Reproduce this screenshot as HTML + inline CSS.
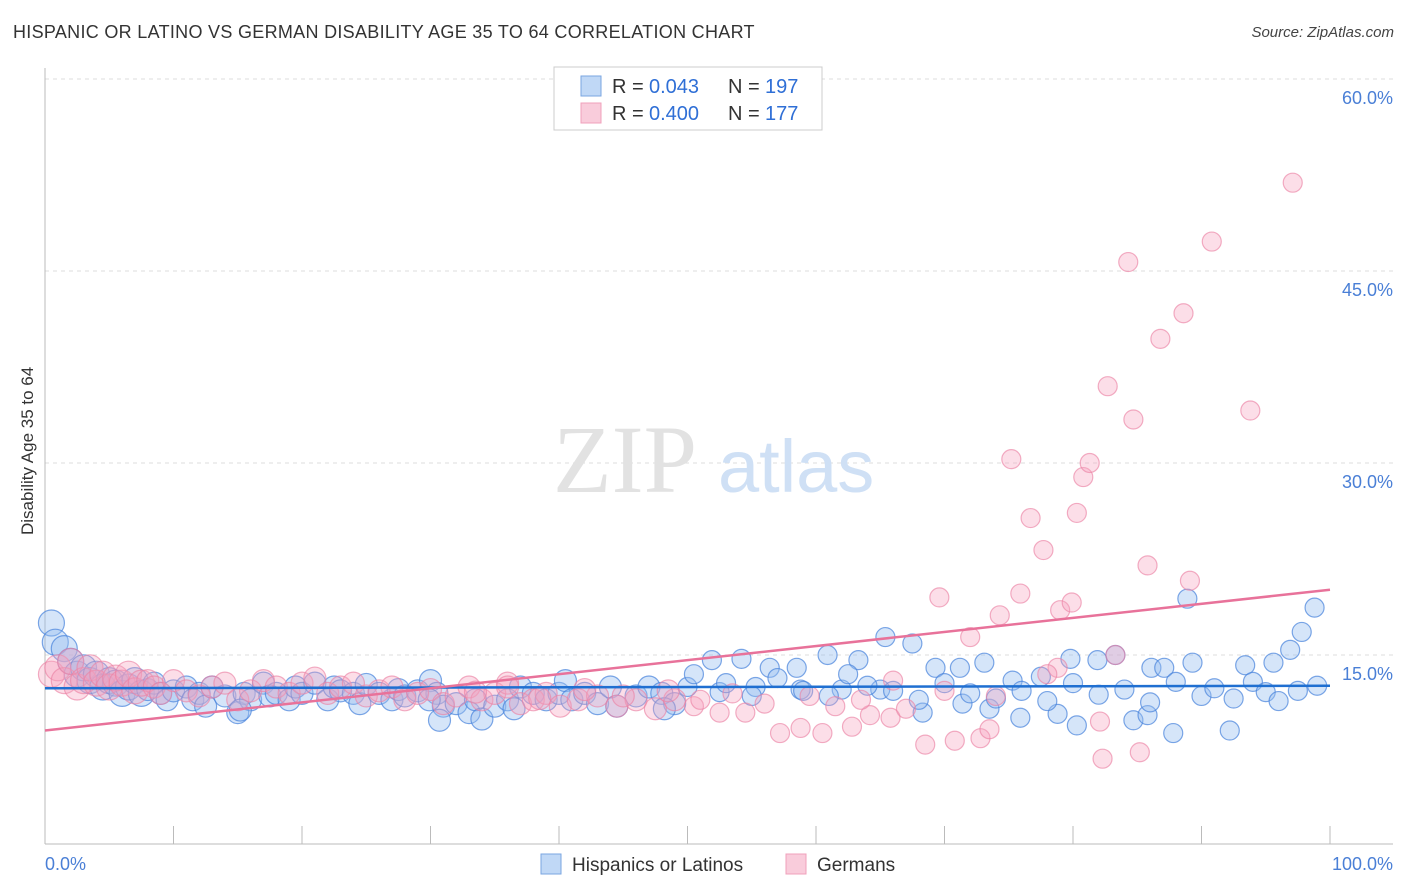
<!DOCTYPE html>
<html><head><meta charset="utf-8">
<style>
body{margin:0;background:#fff;font-family:"Liberation Sans",sans-serif;}
#wrap{position:relative;width:1406px;height:892px;overflow:hidden;}
.t{position:absolute;white-space:nowrap;}
</style></head>
<body>
<div id="wrap">
<div class="t" style="left:13px;top:22px;font-size:18px;color:#333;letter-spacing:0.3px;">HISPANIC OR LATINO VS GERMAN DISABILITY AGE 35 TO 64 CORRELATION CHART</div>
<div class="t" style="right:12px;top:24px;font-size:15px;color:#444;font-style:italic;">Source: ZipAtlas.com</div>
<div class="t" style="left:-52px;top:445px;font-size:17px;color:#333;transform:rotate(-90deg);width:160px;text-align:center;">Disability Age 35 to 64</div>
<svg id="svg" width="1406" height="892" style="position:absolute;left:0;top:0"></svg>
</div>
<script>
const blueX=[0.5,0.8,1.5,2,2.5,3,3.5,4,4.5,5,5.5,6,6.5,7,7.5,8,8.5,9,9.5,10,11,11.5,12,12.5,13,14,15,15.5,16,17,17.5,18,19,19.5,20,21,22,22.5,23,24,24.5,25,26,27,27.5,28,29,30,30.5,31,32,33,33.5,34,35,36,36.5,37,38,39,40,40.5,41,42,43,44,44.5,46,47,48,49,50,50.5,51.9,54.2,56.4,58.5,60.9,63.3,65.4,67.5,69.3,71.2,73.1,75.3,77.5,79.8,81.9,83.3,86.1,87.1,88.9,89.3,92.2,93.4,95.6,96.9,97.8,98.8,80.3,84.7,87.8,85.8,75.9,78.8,71.4,68.3,73.5,65.0,62.0,58.8,55.3,52.5,48.2,30.7,29.9,15.2,53,55,57,59,61,62.5,64,66,68,70,72,74,76,78,80,82,84,86,88,90,91,92.5,94,95,96,97.5,99];
const blueY=[17.5,16,15.5,14.5,13.5,14,13,13.5,12.5,13,12.8,12,12.5,13,12,12.3,12.8,12,11.5,12.2,12.5,11.5,12,11,12.5,11.8,10.5,12,11.5,12.8,11.8,12,11.5,12.5,12,12.8,11.5,12.5,12.2,12,11.2,12.7,12,11.5,12.3,11.8,12.2,13,12,11,11.2,10.5,11.5,10,11,11.5,10.8,12.5,12,11.5,12,13,11.5,12,11.2,12.5,11,11.8,12.5,12,11.2,12.5,13.5,14.6,14.7,14,14,15,14.6,16.4,15.9,14,14,14.4,13,13.3,14.7,14.6,15,14,14,19.4,14.4,9.1,14.2,14.4,15.4,16.8,18.7,9.5,9.9,8.9,10.3,10.1,10.4,11.2,10.5,10.8,12.3,12.3,12.3,12.5,12.1,10.8,9.9,11.5,10.7,12.8,11.8,13.2,12.2,11.8,13.5,12.6,12.2,11.5,12.8,12,11.6,12.2,11.4,12.8,11.9,12.3,11.3,12.9,11.8,12.4,11.6,12.9,12.1,11.4,12.2,12.6];
const pinkX=[0.5,1,1.5,2,2.5,3,3.5,4,4.5,5,5.5,6,6.5,7,7.5,8,8.5,9,10,11,12,13,14,15,16,17,18,19,20,21,22,23,24,25,26,27,28,29,30,31,32,33,34,35,36,37,38,39,40.1,41.5,43,44.5,46,47.5,49,50.5,52.5,54.5,57.2,58.8,60.5,62.8,64.2,65.8,68.5,69.6,70.8,72,72.8,74.3,75.2,75.9,76.7,77.7,78.8,79,79.9,80.3,80.8,81.3,82.1,82.3,82.7,83.3,84.3,84.7,85.2,85.8,86.8,88.6,89.1,90.8,93.8,97.1,73.5,67,63.5,61.5,59.5,56,53.5,51,48.5,45,42,38.5,36,33.5,66,70,74,78];
const pinkY=[13.5,14,13,14.5,12.5,13,14,12.8,13.5,12.5,13.2,12.8,13.5,12.2,12.8,13,12.5,12,13,12.2,11.8,12.5,12.8,11.5,12.2,13,12.5,12,12.8,13.2,12,12.5,12.8,11.8,12.2,12.5,11.5,12,12.3,11.2,11.8,12.5,11.5,12,12.8,11.2,11.5,12,11,11.5,11.8,11,11.5,10.8,11.5,11,10.5,10.5,8.9,9.3,8.9,9.4,10.3,10.1,8,19.5,8.3,16.4,8.5,18.1,30.3,19.8,25.7,23.2,14,18.5,19.1,26.1,28.9,30,9.8,6.9,36,15,45.7,33.4,7.4,22,39.7,41.7,20.8,47.3,34.1,51.9,9.2,10.8,11.5,11,11.8,11.2,12,11.5,12.2,11.8,12.3,11.6,12.5,12.1,13,12.2,11.8,13.5];
const blueLine=[12.4,12.6];
const pinkLine=[9.1,20.1];
const yTicks=[15,30,45,60];
const xTicks=[0,10,20,30,40,50,60,70,80,90,100];

const svg=document.getElementById('svg');
const NS='http://www.w3.org/2000/svg';
const X=v=>45+v*12.85;
const Y=v=>847-v*12.8;
function mk(t,a){const e=document.createElementNS(NS,t);for(const k in a)e.setAttribute(k,a[k]);svg.appendChild(e);return e;}
yTicks.forEach(v=>{
 const g=mk('line',{x1:45,x2:1393,y1:Y(v),y2:Y(v),stroke:'#ddd','stroke-dasharray':'4,4'});
 
 
 const t=mk('text',{x:1393,y:Y(v)+25,'text-anchor':'end','font-size':18,fill:'#4a7fd6','font-family':'Liberation Sans'});
 t.textContent=v.toFixed(1)+'%';
 
 
});
mk('line',{x1:45,x2:45,y1:68,y2:844,stroke:'#bbb'});
const ax=mk('line',{x1:45,x2:1393,y1:844,y2:844,stroke:'#bbb'});


xTicks.forEach(v=>{const l=mk('line',{x1:X(v),x2:X(v),y1:826,y2:844,stroke:'#bbb'});
 
 });
[[0,'start','0.0%'],[100,'end','100.0%']].forEach(([v,a,s],i)=>{const t=mk('text',{x:i?1393:45,y:870,'text-anchor':a,'font-size':18,fill:'#4a7fd6','font-family':'Liberation Sans'});t.textContent=s;
 
 });
const w1=mk('text',{x:553,y:492,'font-size':96,fill:'#e2e2e2','font-family':'Liberation Serif'});w1.textContent='ZIP';


const w2=mk('text',{x:718,y:492,'font-size':74,fill:'#cfe0f5','font-family':'Liberation Sans'});w2.textContent='atlas';


function pts(xs,ys,fill,stroke,name){xs.forEach((x,i)=>{const r=(x<8?13:(x<50?11:9.5));
 const c=mk('circle',{cx:X(x),cy:Y(ys[i]),r:r,fill:fill,stroke:stroke,'stroke-width':1.2});
 
 });}
pts(blueX,blueY,'rgba(150,190,240,0.4)','rgba(70,130,220,0.7)','hispanic-point');
pts(pinkX,pinkY,'rgba(245,160,190,0.35)','rgba(235,130,165,0.65)','german-point');
const bl=mk('line',{x1:X(0),x2:X(100),y1:Y(blueLine[0]),y2:Y(blueLine[1]),stroke:'#1f6fd1','stroke-width':2.5});


const pl=mk('line',{x1:X(0),x2:X(100),y1:Y(pinkLine[0]),y2:Y(pinkLine[1]),stroke:'#e8729a','stroke-width':2.5});


const lb=mk('rect',{x:554,y:67,width:268,height:63,fill:'#fff',stroke:'#ccc'});


[[0,'rgba(150,190,240,0.6)','#7aa6e0','0.043','197'],[1,'rgba(245,170,195,0.6)','#f0a0bb','0.400','177']].forEach(([i,f,s,r,n])=>{
 const y=86+i*27;
 const sw=mk('rect',{x:581,y:y-10,width:20,height:20,fill:f,stroke:s});
 
 
 [[612,'R =','#333'],[649,r,'#2f6fd6'],[728,'N =','#333'],[765,n,'#2f6fd6']].forEach(([x,s2,c])=>{
  const t=mk('text',{x:x,y:y+7,'font-size':20,fill:c,'font-family':'Liberation Sans'});
  t.textContent=s2;
  
  
 });
});
[[541,'rgba(150,190,240,0.6)','#7aa6e0','Hispanics or Latinos'],[786,'rgba(245,170,195,0.6)','#f0a0bb','Germans']].forEach(([x,f,s,l])=>{
 const sw=mk('rect',{x:x,y:854,width:20,height:20,fill:f,stroke:s});
 
 
 const t=mk('text',{x:x+31,y:871,'font-size':19,fill:'#333','font-family':'Liberation Sans'});t.textContent=l;
 
 
});
</script>
</body></html>
